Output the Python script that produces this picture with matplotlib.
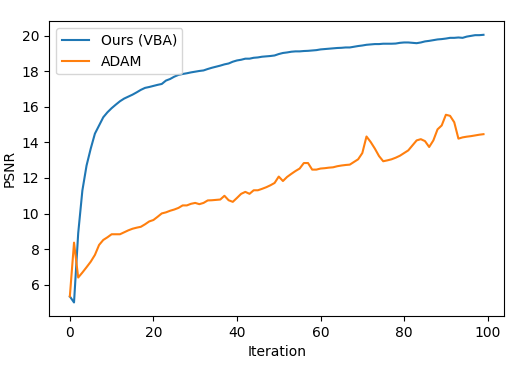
import numpy as np
import matplotlib
matplotlib.use("Agg")
import matplotlib.pyplot as plt

# PSNR per iteration
psnr_vba = [5.35, 5.01, 8.9, 11.3, 12.7, 13.65, 14.49, 14.95, 15.41, 15.69,
            15.92, 16.12, 16.31, 16.46, 16.57, 16.68, 16.81, 16.95, 17.06, 17.11,
            17.17, 17.23, 17.28, 17.47, 17.56, 17.69, 17.79, 17.84, 17.88, 17.93,
            17.97, 18.01, 18.04, 18.12, 18.19, 18.25, 18.31, 18.38, 18.43, 18.53,
            18.60, 18.64, 18.70, 18.70, 18.75, 18.77, 18.81, 18.83, 18.85, 18.88,
            18.96, 19.02, 19.05, 19.09, 19.11, 19.11, 19.13, 19.14, 19.16, 19.18,
            19.22, 19.24, 19.26, 19.28, 19.30, 19.31, 19.33, 19.33, 19.37, 19.41,
            19.44, 19.48, 19.50, 19.52, 19.52, 19.54, 19.54, 19.54, 19.55, 19.59,
            19.61, 19.61, 19.59, 19.57, 19.61, 19.67, 19.70, 19.74, 19.78, 19.80,
            19.83, 19.87, 19.87, 19.89, 19.87, 19.94, 19.98, 20.02, 20.02, 20.04]

psnr_adam = [5.35, 8.37, 6.41, 6.69, 6.99, 7.30, 7.68, 8.24, 8.52, 8.67,
             8.84, 8.84, 8.84, 8.95, 9.06, 9.15, 9.21, 9.26, 9.40, 9.56,
             9.64, 9.82, 10.01, 10.07, 10.16, 10.23, 10.32, 10.46, 10.46, 10.55,
             10.60, 10.53, 10.60, 10.74, 10.75, 10.77, 10.79, 11.00, 10.75, 10.66,
             10.88, 11.11, 11.22, 11.11, 11.31, 11.31, 11.39, 11.48, 11.59, 11.72,
             12.08, 11.83, 12.06, 12.23, 12.39, 12.53, 12.84, 12.84, 12.47, 12.47,
             12.53, 12.55, 12.58, 12.60, 12.66, 12.70, 12.73, 12.75, 12.90, 13.05,
             13.40, 14.33, 14.02, 13.65, 13.23, 12.94, 12.99, 13.05, 13.14, 13.25,
             13.40, 13.55, 13.83, 14.11, 14.18, 14.07, 13.74, 14.11, 14.73, 14.95,
             15.55, 15.49, 15.13, 14.21, 14.28, 14.32, 14.35, 14.39, 14.43, 14.46]

iters = np.arange(len(psnr_vba))

fig, ax = plt.subplots(figsize=(5.23, 3.76), dpi=100)
fig.subplots_adjust(left=0.094, right=0.964, top=0.943, bottom=0.160)

ax.plot(iters, psnr_vba, label="Ours (VBA)")
ax.plot(iters, psnr_adam, label="ADAM")

ax.set_xlabel("Iteration")
ax.set_ylabel("PSNR")
ax.legend(loc="upper left")

fig.savefig("out.png", dpi=100)
